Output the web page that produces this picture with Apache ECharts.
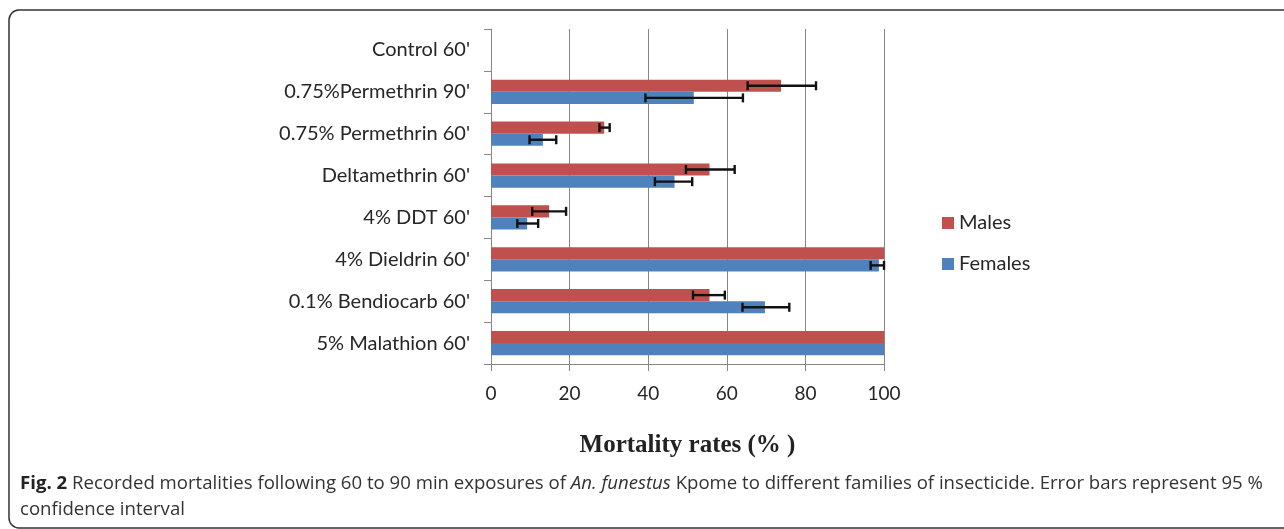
<!DOCTYPE html>
<html>
<head>
<meta charset="utf-8">
<script src="https://cdn.jsdelivr.net/npm/echarts@6/dist/echarts.min.js"></script>
<style>
  html, body { margin: 0; padding: 0; background: #fff; }
  #chart { width: 1284px; height: 529px; }
</style>
</head>
<body>
<div id="chart"></div>
<script>
// categories listed bottom to top (category axis runs upward)
const categories = ["5% Malathion 60'", "0.1% Bendiocarb 60'", "4% Dieldrin 60'", "4% DDT 60'",
  "Deltamethrin 60'", "0.75% Permethrin 60'", "0.75%Permethrin 90'", "Control 60'"];
const males = [100, 55.6, 100, 14.8, 55.6, 28.8, 73.8, 0];
const maleLow = [null, 51.4, null, 10.5, 49.6, 27.6, 65.3, null];
const maleHigh = [null, 59.5, null, 19.1, 62.0, 30.2, 82.7, null];
const females = [100, 69.7, 98.7, 9.2, 46.7, 13.2, 51.6, 0];
const femaleLow = [null, 64.0, 96.6, 6.7, 41.7, 9.8, 39.3, null];
const femaleHigh = [null, 75.9, 100, 12.0, 51.2, 16.6, 64.1, null];
const xTicks = [0, 20, 40, 60, 80, 100];

const GAP = 0.42;
const labelFont = 'Lato, "Open Sans", sans-serif';

function errData(lo, hi) {
  return categories.map((c, i) => lo[i] == null ? null : [i, lo[i], hi[i]]).filter(d => d);
}

function errRender(sign) {
  return function (params, api) {
    const cat = api.value(0);
    const a = api.coord([api.value(1), cat]);
    const b = api.coord([api.value(2), cat]);
    const band = api.size([0, 1])[1];
    const y = a[1] + sign * band * (1 - GAP) / 4;
    const cap = 4.5;
    const style = { stroke: '#111', lineWidth: 2.4 };
    return {
      type: 'group',
      children: [
        { type: 'line', shape: { x1: a[0], y1: y, x2: b[0], y2: y }, style },
        { type: 'line', shape: { x1: a[0], y1: y - cap, x2: a[0], y2: y + cap }, style },
        { type: 'line', shape: { x1: b[0], y1: y - cap, x2: b[0], y2: y + cap }, style }
      ]
    };
  };
}

const chart = echarts.init(document.getElementById('chart'));
chart.setOption({
  animation: false,
  grid: { left: 491, right: 400, top: 29, bottom: 165, containLabel: false },
  legend: {
    orient: 'vertical', left: 937, top: 208,
    itemWidth: 12, itemHeight: 12, itemGap: 21,
    icon: 'rect',
    data: ['Males', 'Females'],
    textStyle: { fontFamily: labelFont, fontSize: 20, color: '#262626' }
  },
  xAxis: {
    type: 'value', min: 0, max: 100, interval: 20,
    name: 'Mortality rates (% )', nameLocation: 'middle', nameGap: 69,
    nameTextStyle: { fontFamily: '"Liberation Serif", serif', fontWeight: 'bold', fontSize: 25, color: '#222' },
    axisLine: { show: true, lineStyle: { color: '#868686' } },
    axisTick: { show: true, length: 7, lineStyle: { color: '#868686' } },
    axisLabel: { margin: 20, fontFamily: labelFont, fontSize: 19, color: '#262626',
      formatter: v => xTicks.includes(v) ? String(v) : '' },
    splitLine: { show: true, lineStyle: { color: '#868686' } }
  },
  yAxis: {
    type: 'category', data: categories,
    axisLine: { show: true, lineStyle: { color: '#868686' } },
    axisTick: { show: true, length: 7, lineStyle: { color: '#868686' } },
    axisLabel: { margin: 21, fontFamily: labelFont, fontSize: 20, color: '#262626' },
    splitLine: { show: false }
  },
  series: [
    { name: 'Males', type: 'bar', data: males, barGap: '0%', barCategoryGap: (GAP * 100) + '%',
      itemStyle: { color: '#C0504D' } },
    { name: 'Females', type: 'bar', data: females,
      itemStyle: { color: '#4F81BD' } },
    { type: 'custom', data: errData(maleLow, maleHigh), renderItem: errRender(-1),
      encode: { x: [1, 2], y: 0 }, z: 5, silent: true },
    { type: 'custom', data: errData(femaleLow, femaleHigh), renderItem: errRender(1),
      encode: { x: [1, 2], y: 0 }, z: 5, silent: true }
  ],
  graphic: [
    { type: 'rect', shape: { x: 9, y: 10, width: 1320, height: 518, r: 10 },
      style: { fill: 'none', stroke: '#333', lineWidth: 1.5 }, silent: true },
    { type: 'text', left: 20, top: 471,
      style: {
        text: '{b|Fig. 2} Recorded mortalities following 60 to 90 min exposures of {i|An. funestus} Kpome to different families of insecticide. Error bars represent 95 %\nconfidence interval',
        fontFamily: '"Open Sans", sans-serif', fontSize: 18.6, fill: '#333', lineHeight: 26,
        rich: {
          b: { fontFamily: '"Open Sans", sans-serif', fontWeight: 'bold', fontSize: 18.6, fill: '#222', lineHeight: 26 },
          i: { fontFamily: '"Open Sans", sans-serif', fontStyle: 'italic', fontSize: 18.6, fill: '#333', lineHeight: 26 }
        }
      }
    }
  ]
});
</script>
</body>
</html>
